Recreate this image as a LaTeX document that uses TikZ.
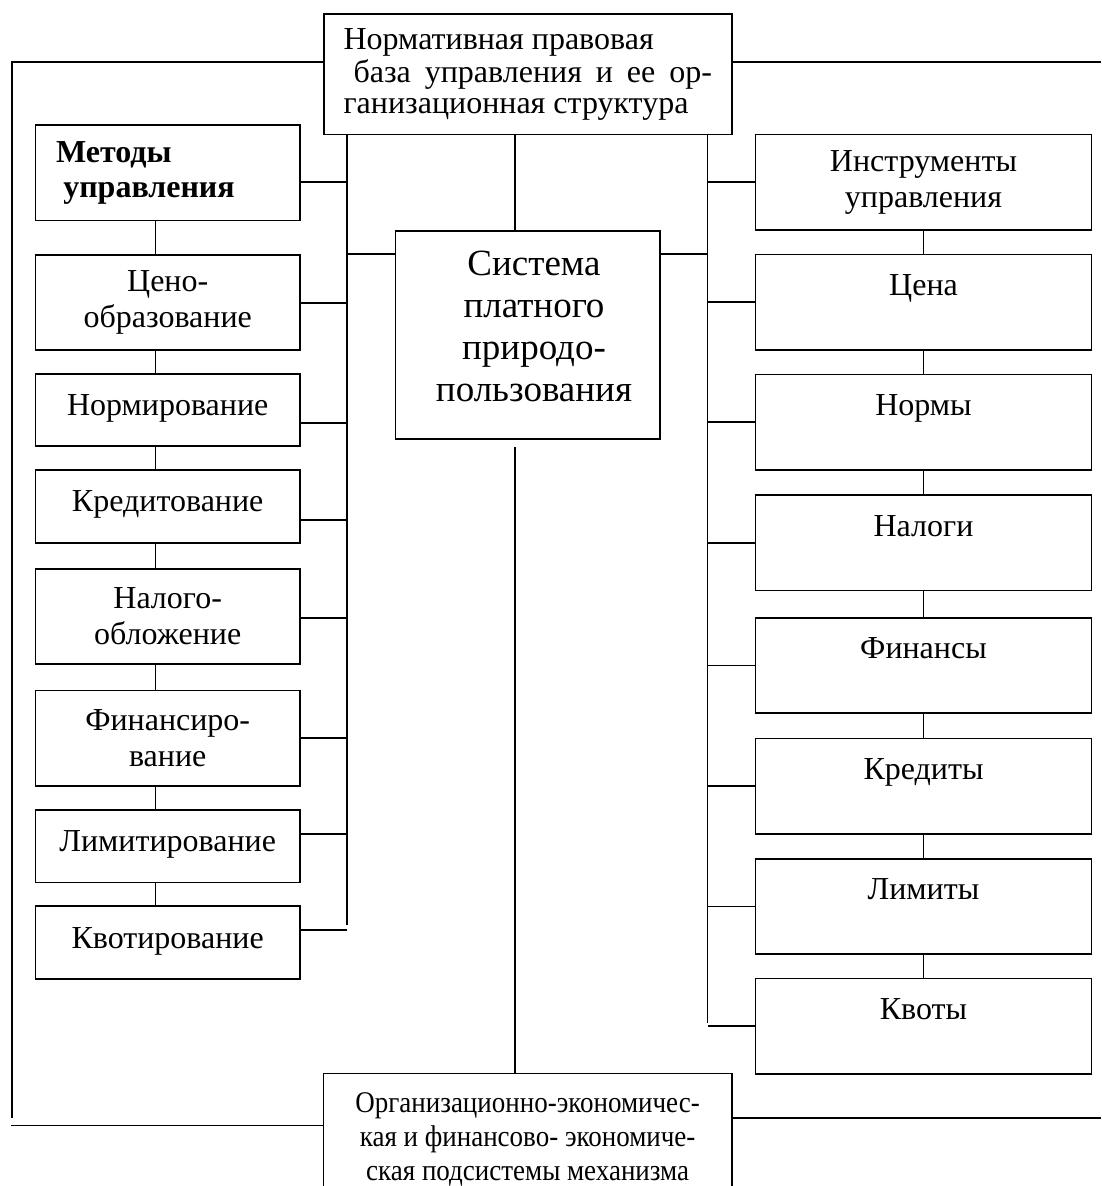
\documentclass[tikz,border=0pt]{standalone}
\usepackage{fontspec}
\setmainfont{Liberation Serif}
\newfontfamily\mainf{Liberation Serif}
\newfontfamily\condfont[FakeStretch=0.9]{Liberation Serif}
\begin{document}
\begin{tikzpicture}[x=1pt,y=-1pt,
  bx/.style={draw, line width=1.7pt, inner sep=0pt},
  ln/.style={line width=1.7pt},
  lbox/.style={bx, minimum width=264.6pt, font=\mainf\fontsize{32pt}{36pt}\selectfont},
  rbox/.style={bx, minimum width=336pt, minimum height=95.6pt, font=\mainf\fontsize{32pt}{36.5pt}\selectfont},
  rone/.style={rbox, text height=21.2pt, text depth=34.6pt},
  lone/.style={text height=21.2pt, text depth=10pt},
]
\useasboundingbox (0,0) rectangle (1101,1186);
\clip (0,0) rectangle (1101,1186);

% top and centre
\node[bx, minimum width=407.7pt, minimum height=120.3pt, font=\mainf\fontsize{32pt}{33.3pt}\selectfont, align=left] (top) at (527.8,74.2)
  {Нормативная правовая\\\hspace*{10pt}\makebox[358.4pt][s]{база управления и ее ор-}\\[-2.5pt]ганизационная структура};
\node[bx, minimum width=264.3pt, minimum height=208.3pt] (sys) at (527.5,334.8) {};
\node[font=\mainf\fontsize{37pt}{42pt}\selectfont, align=center, inner sep=0pt] (sysT) at (534,326.5)
  {Система\\платного\\природо-\\пользования};
\node[bx, minimum width=408.2pt, minimum height=132.5pt, font=\condfont\fontsize{30pt}{34pt}\selectfont, align=center] (bot) at (527.6,1139.75)
  {Организационно-экономичес-\\кая и финансово- экономиче-\\ская подсистемы механизма};

% left column
\node[lbox, minimum height=95.3pt, font=\mainf\bfseries\fontsize{32pt}{35pt}\selectfont, align=left, text width=223.4pt, inner xsep=20.6pt] (meth) at (167.7,172.7) {Методы\\\hspace*{7.3pt}управления};
\node[lbox, minimum height=95pt, align=center] (ceno) at (167.7,302.5) {Цено-\\образование};
\node[lbox, lone, minimum height=72pt] (norm) at (167.7,410.3) {Нормирование};
\node[lbox, lone, minimum height=72.7pt] (kred) at (167.7,506.3) {Кредитование};
\node[lbox, minimum height=95.6pt, align=center] (nalog) at (167.7,616.5) {Налого-\\обложение};
\node[lbox, minimum height=95.7pt, align=center] (fin) at (167.7,738.2) {Финансиро-\\вание};
\node[lbox, lone, minimum height=72.3pt] (lim) at (167.7,846.2) {Лимитирование};
\node[lbox, lone, minimum height=72.4pt] (kvot) at (167.7,942.5) {Квотирование};

% right column
\node[rbox, align=center] (instr) at (923.5,182.3) {Инструменты\\управления};
\node[rone] (cena) at (923.5,302.3) {Цена};
\node[rone] (normy) at (923.5,422.2) {Нормы};
\node[rone] (nalogi) at (923.5,542.8) {Налоги};
\node[rone] (finansy) at (923.5,665.5) {Финансы};
\node[rone] (kredity) at (923.5,786.2) {Кредиты};
\node[rone] (limity) at (923.5,906.5) {Лимиты};
\node[rone] (kvoty) at (923.5,1026.3) {Квоты};

% helper coordinates
\coordinate (bl) at (347,0);
\coordinate (br) at (707.5,0);
\coordinate (cx) at (515.3,0);
\coordinate (lx) at (155.4,0);
\coordinate (blEnd) at (347,925);
\coordinate (brEnd) at (707.5,1022.7);
\coordinate (cgap) at (515.3,446.7);
\coordinate (oTL) at (12,61.7);
\coordinate (oBL) at (12,1118);
\coordinate (oTR) at (1101,61.7);
\coordinate (oBLh) at (11,1125.5);
\coordinate (oBR) at (1101,1118.3);

% buses
\draw[ln] (top.south -| bl) -- (blEnd);
\draw[ln] (top.south -| br) -- (brEnd);
\draw[ln] (top.south -| cx) -- (sys.north -| cx);
\draw[ln] (cgap) -- (bot.north -| cx);
\draw[ln] (sys.west |- 0,254) -- (bl |- 0,254);
\draw[ln] (sys.east |- 0,254) -- (br |- 0,254);

% left connectors
\foreach \n/\yy in {meth/182.3, ceno/302.7, norm/422.7, kred/520, nalog/617.7, fin/738.3, lim/834, kvot/930}
  \draw[ln] (\n.east |- 0,\yy) -- (bl |- 0,\yy);
\foreach \a/\b in {meth/ceno, ceno/norm, norm/kred, kred/nalog, nalog/fin, fin/lim, lim/kvot}
  \draw[ln] (\a.south -| lx) -- (\b.north -| lx);

% right connectors
\foreach \n in {instr,cena,normy,nalogi,finansy,kredity,limity,kvoty}
  \draw[ln] (\n.west) -- (\n.west -| br);
\foreach \a/\b in {instr/cena, cena/normy, normy/nalogi, nalogi/finansy, finansy/kredity, kredity/limity, limity/kvoty}
  \draw[ln] (\a.south) -- (\b.north);

% outer frame lines
\draw[ln] (top.west |- oTL) -- (oTL) -- (oBL);
\draw[ln] (top.east |- oTR) -- (oTR);
\draw[ln] (oBLh) -- (bot.west |- oBLh);
\draw[ln] (bot.east |- oBR) -- (oBR);
\end{tikzpicture}
\end{document}
